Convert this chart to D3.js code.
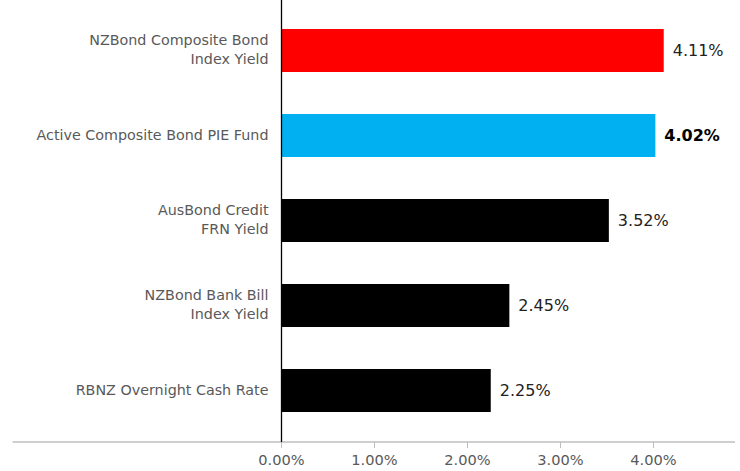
<!DOCTYPE html>
<html><head><meta charset="utf-8">
<script src="https://cdn.jsdelivr.net/npm/d3@7"></script>
<style>html,body{margin:0;padding:0;background:#fff;}svg{display:block;}</style>
</head><body>
<svg id="c" width="740" height="471"></svg>
<script>
const categories = [
  ["NZBond Composite Bond", "Index Yield"],
  ["Active Composite Bond PIE Fund"],
  ["AusBond Credit", "FRN Yield"],
  ["NZBond Bank Bill", "Index Yield"],
  ["RBNZ Overnight Cash Rate"]
];
const values = [4.11, 4.02, 3.52, 2.45, 2.25];
const barColors = ["#ff0000", "#00b0f0", "#000000", "#000000", "#000000"];
const boldLabel = [false, true, false, false, false];
const tickValues = [0, 1, 2, 3, 4];

const font = "Verdana, 'DejaVu Sans', sans-serif";
const svg = d3.select("#c");
const x = d3.scaleLinear().domain([0, 1]).range([281.5, 374.5]);
const y = d3.scaleBand().domain(d3.range(values.length)).range([8, 433]).paddingInner(0.494).paddingOuter(0.247);

// bars
svg.selectAll("rect.bar").data(values).join("rect")
  .attr("x", x(0)).attr("y", (d,i)=>y(i))
  .attr("width", d=>x(d)-x(0)).attr("height", y.bandwidth())
  .attr("fill", (d,i)=>barColors[i]);

// x axis
const ax = svg.append("g").attr("transform","translate(0,442)");
ax.append("line").attr("x1",12.5).attr("x2",735).attr("stroke","#bfbfbf").attr("stroke-width",1.5);
const ticks = ax.selectAll("g.t").data(tickValues).join("g").attr("transform", d=>`translate(${x(d)},0)`);
ticks.append("line").attr("y1",0).attr("y2",6).attr("stroke","#bfbfbf");
ticks.append("text").attr("y",23).attr("text-anchor","middle")
  .attr("font-family",font).attr("font-size",14.6).attr("fill","#595959")
  .text(d=>d3.format(".2f")(d)+"%");

// vertical axis line
svg.append("line").attr("x1",x(0)).attr("x2",x(0)).attr("y1",0).attr("y2",442)
  .attr("stroke","#000").attr("stroke-width",1.3);

// category labels
const lineH = 19;
svg.selectAll("text.cat").data(categories).join("text")
  .attr("font-family",font).attr("font-size",14.3).attr("fill","#595959")
  .attr("text-anchor","end")
  .each(function(d,i){
    const cy = y(i)+y.bandwidth()/2;
    const t = d3.select(this);
    d.forEach((line,j)=>{
      t.append("tspan").attr("x",x(0)-13)
        .attr("y", cy + (j-(d.length-1)/2)*lineH - 1)
        .attr("dy","0.35em").text(line);
    });
  });

// value labels
svg.selectAll("text.val").data(values).join("text")
  .attr("x", d=>x(d)+9).attr("y",(d,i)=>y(i)+y.bandwidth()/2).attr("dy","0.35em")
  .attr("font-family",font).attr("font-size",16)
  .attr("font-weight",(d,i)=>boldLabel[i]?"bold":"normal")
  .attr("fill",(d,i)=>boldLabel[i]?"#000":"#222")
  .text(d=>d3.format(".2f")(d)+"%");
</script>
</body></html>
